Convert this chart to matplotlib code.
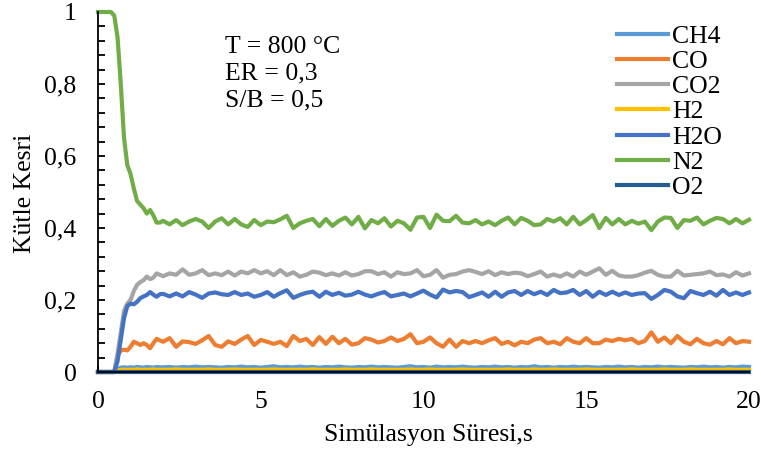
import numpy as np
import matplotlib
matplotlib.use("Agg")
import matplotlib.pyplot as plt
from matplotlib.ticker import MultipleLocator, FuncFormatter

plt.rcParams['font.family'] = ['Liberation Serif', 'DejaVu Serif']

# simulation time: 0.1 s steps during start-up, 0.2 s afterwards
time = np.round(np.concatenate([np.arange(0, 2.0, 0.1), np.arange(2.0, 20.01, 0.2)]), 2)

# mass fractions (start-up 0-1.9 s, then 2.0-20.0 s)
n2 = [1, 1, 1, 1, 1, 0.99, 0.93, 0.80, 0.65, 0.575, 0.55, 0.51, 0.475, 0.465, 0.455, 0.44, 0.45, 0.435, 0.415, 0.415,
      0.420, 0.410, 0.422, 0.408, 0.418, 0.425, 0.418, 0.400, 0.418, 0.427,
      0.410, 0.425, 0.410, 0.403, 0.422, 0.408, 0.418, 0.416, 0.424, 0.434,
      0.400, 0.413, 0.420, 0.425, 0.405, 0.425, 0.406, 0.420, 0.429, 0.410,
      0.431, 0.399, 0.422, 0.413, 0.427, 0.404, 0.420, 0.413, 0.395, 0.429,
      0.431, 0.400, 0.437, 0.420, 0.419, 0.434, 0.415, 0.413, 0.422, 0.410,
      0.418, 0.408, 0.420, 0.429, 0.410, 0.428, 0.420, 0.408, 0.410, 0.425,
      0.418, 0.427, 0.410, 0.431, 0.410, 0.422, 0.436, 0.400, 0.428, 0.410,
      0.425, 0.410, 0.420, 0.412, 0.418, 0.394, 0.418, 0.429, 0.428, 0.400,
      0.422, 0.420, 0.429, 0.410, 0.420, 0.428, 0.425, 0.413, 0.425, 0.413,
      0.423]

co2 = [0, 0, 0, 0, 0, 0, 0.05, 0.11, 0.17, 0.19, 0.20, 0.225, 0.242, 0.25, 0.255, 0.265, 0.258, 0.262, 0.274, 0.27,
       0.266, 0.274, 0.270, 0.285, 0.270, 0.274, 0.283, 0.269, 0.274, 0.269,
       0.279, 0.268, 0.279, 0.274, 0.283, 0.274, 0.280, 0.269, 0.283, 0.269,
       0.277, 0.265, 0.270, 0.279, 0.276, 0.269, 0.274, 0.268, 0.277, 0.268,
       0.272, 0.280, 0.280, 0.272, 0.277, 0.265, 0.277, 0.272, 0.274, 0.283,
       0.266, 0.270, 0.283, 0.262, 0.270, 0.272, 0.279, 0.283, 0.278, 0.272,
       0.280, 0.269, 0.277, 0.272, 0.276, 0.274, 0.266, 0.272, 0.279, 0.265,
       0.271, 0.265, 0.274, 0.265, 0.279, 0.270, 0.279, 0.288, 0.270, 0.281,
       0.268, 0.265, 0.265, 0.269, 0.276, 0.281, 0.270, 0.265, 0.265, 0.281,
       0.268, 0.270, 0.272, 0.274, 0.279, 0.269, 0.271, 0.265, 0.277, 0.268,
       0.274]

h2o = [0, 0, 0, 0, 0, 0, 0.03, 0.09, 0.15, 0.183, 0.19, 0.188, 0.195, 0.205, 0.21, 0.214, 0.222, 0.215, 0.209, 0.216,
       0.217, 0.210, 0.218, 0.210, 0.222, 0.215, 0.206, 0.218, 0.221, 0.216,
       0.214, 0.222, 0.214, 0.218, 0.209, 0.214, 0.222, 0.209, 0.219, 0.227,
       0.206, 0.214, 0.220, 0.223, 0.209, 0.223, 0.214, 0.220, 0.212, 0.215,
       0.223, 0.215, 0.210, 0.217, 0.222, 0.210, 0.214, 0.218, 0.210, 0.218,
       0.226, 0.215, 0.207, 0.229, 0.221, 0.225, 0.222, 0.208, 0.214, 0.221,
       0.209, 0.223, 0.209, 0.221, 0.225, 0.214, 0.225, 0.216, 0.223, 0.214,
       0.228, 0.219, 0.221, 0.228, 0.214, 0.225, 0.209, 0.223, 0.214, 0.223,
       0.214, 0.221, 0.214, 0.218, 0.219, 0.203, 0.214, 0.228, 0.223, 0.210,
       0.205, 0.225, 0.219, 0.214, 0.223, 0.212, 0.228, 0.214, 0.221, 0.214,
       0.221]

co = [0, 0, 0, 0, 0, 0, 0.045, 0.06, 0.062, 0.06, 0.07, 0.084, 0.08, 0.075, 0.08, 0.075, 0.066, 0.08, 0.092, 0.088,
      0.084, 0.094, 0.070, 0.085, 0.083, 0.078, 0.088, 0.100, 0.075, 0.070,
      0.085, 0.078, 0.090, 0.100, 0.075, 0.089, 0.084, 0.078, 0.084, 0.072,
      0.100, 0.086, 0.092, 0.075, 0.097, 0.078, 0.098, 0.080, 0.092, 0.076,
      0.080, 0.094, 0.090, 0.082, 0.086, 0.096, 0.086, 0.092, 0.105, 0.080,
      0.084, 0.096, 0.080, 0.070, 0.090, 0.070, 0.086, 0.080, 0.086, 0.080,
      0.088, 0.094, 0.078, 0.084, 0.074, 0.084, 0.080, 0.090, 0.094, 0.080,
      0.084, 0.077, 0.094, 0.084, 0.080, 0.094, 0.080, 0.080, 0.090, 0.086,
      0.092, 0.088, 0.092, 0.080, 0.086, 0.110, 0.084, 0.096, 0.080, 0.100,
      0.084, 0.077, 0.092, 0.080, 0.076, 0.086, 0.077, 0.094, 0.080, 0.086,
      0.084]

ch4 = [0, 0, 0, 0, 0, 0, 0.008, 0.012, 0.013, 0.012, 0.013, 0.012, 0.014, 0.013, 0.012, 0.014, 0.013, 0.012, 0.014, 0.013,
       0.013, 0.014, 0.012, 0.014, 0.013, 0.015, 0.013, 0.014, 0.013, 0.012,
       0.014, 0.013, 0.015, 0.013, 0.014, 0.012, 0.014, 0.016, 0.013, 0.014,
       0.013, 0.015, 0.013, 0.014, 0.012, 0.014, 0.013, 0.015, 0.013, 0.012,
       0.014, 0.013, 0.015, 0.013, 0.014, 0.013, 0.012, 0.014, 0.016, 0.013,
       0.014, 0.012, 0.015, 0.013, 0.014, 0.013, 0.015, 0.013, 0.012, 0.014,
       0.013, 0.015, 0.013, 0.014, 0.012, 0.014, 0.013, 0.016, 0.013, 0.014,
       0.012, 0.014, 0.013, 0.015, 0.013, 0.014, 0.013, 0.012, 0.014, 0.013,
       0.015, 0.013, 0.014, 0.012, 0.014, 0.013, 0.015, 0.013, 0.014, 0.013,
       0.012, 0.014, 0.013, 0.015, 0.013, 0.014, 0.012, 0.014, 0.013, 0.015,
       0.014]

h2 = [0, 0, 0, 0, 0, 0, 0.004, 0.006, 0.006, 0.006, 0.006, 0.006, 0.007, 0.006, 0.006, 0.006, 0.006, 0.007, 0.006, 0.006,
      0.006, 0.006, 0.007, 0.006, 0.006, 0.006, 0.006, 0.007, 0.006, 0.006,
      0.006, 0.007, 0.006, 0.006, 0.006, 0.006, 0.006, 0.007, 0.006, 0.006,
      0.006, 0.006, 0.006, 0.007, 0.006, 0.006, 0.006, 0.006, 0.007, 0.006,
      0.006, 0.006, 0.007, 0.006, 0.006, 0.006, 0.006, 0.006, 0.007, 0.006,
      0.006, 0.007, 0.006, 0.006, 0.006, 0.006, 0.007, 0.006, 0.006, 0.006,
      0.006, 0.006, 0.006, 0.007, 0.006, 0.006, 0.006, 0.007, 0.006, 0.006,
      0.007, 0.006, 0.006, 0.006, 0.006, 0.007, 0.006, 0.006, 0.006, 0.006,
      0.006, 0.006, 0.007, 0.006, 0.006, 0.006, 0.006, 0.007, 0.006, 0.006,
      0.006, 0.007, 0.006, 0.006, 0.006, 0.006, 0.006, 0.007, 0.006, 0.006,
      0.006]

o2 = [0.0] * len(time)

species = ["CH4", "CO", "CO2", "H2", "H2O", "N2", "O2"]
series = [ch4, co, co2, h2, h2o, n2, o2]
colors = ["#5B9BD5", "#ED7D31", "#A5A5A5", "#FFC000", "#4472C4", "#70AD47", "#255E91"]

fs = 18.5

fig = plt.figure(figsize=(7.61, 4.61), dpi=100)
ax = fig.add_axes([98 / 761, 1 - 372 / 461, 651 / 761, 360 / 461])

for name, vals, c in zip(species, series, colors):
    ax.plot(time, vals, color=c, lw=3.0, label=name, clip_on=False, solid_joinstyle="round")

ax.set_xlim(0, 20)
ax.set_ylim(0, 1)
ax.xaxis.set_major_locator(MultipleLocator(5))
ax.yaxis.set_major_locator(MultipleLocator(0.2))
ax.yaxis.set_minor_locator(MultipleLocator(0.04))
ax.yaxis.set_major_formatter(FuncFormatter(lambda v, p: f"{v:g}".replace(".", ",")))

for s in ["top", "right"]:
    ax.spines[s].set_visible(False)
ax.spines["left"].set_linewidth(1.3)
ax.spines["bottom"].set_linewidth(1.3)

ax.tick_params(axis="y", which="both", direction="in", length=5, width=1.3, labelsize=fs, pad=15.5)
ax.tick_params(axis="x", which="both", direction="in", length=4, width=1.3, labelsize=fs, pad=14)

ax.set_xlabel("Simülasyon Süresi,s", fontsize=fs)
ax.set_ylabel("Kütle Kesri", fontsize=fs)
ax.xaxis.set_label_coords(0.507, -0.145)
ax.yaxis.set_label_coords(-0.095, 0.495)

ax.text(0.195, 0.933, "T = 800 °C\nER = 0,3\nS/B = 0,5", transform=ax.transAxes,
        fontsize=fs, va="top", ha="left", linespacing=1.26)

ax.legend(loc="upper left", bbox_to_anchor=(0.797, 0.964), frameon=False, fontsize=fs,
          handlelength=2.0, handletextpad=0.15, labelspacing=0.085, borderaxespad=0, borderpad=0)

fig.savefig("out.png", dpi=100)
